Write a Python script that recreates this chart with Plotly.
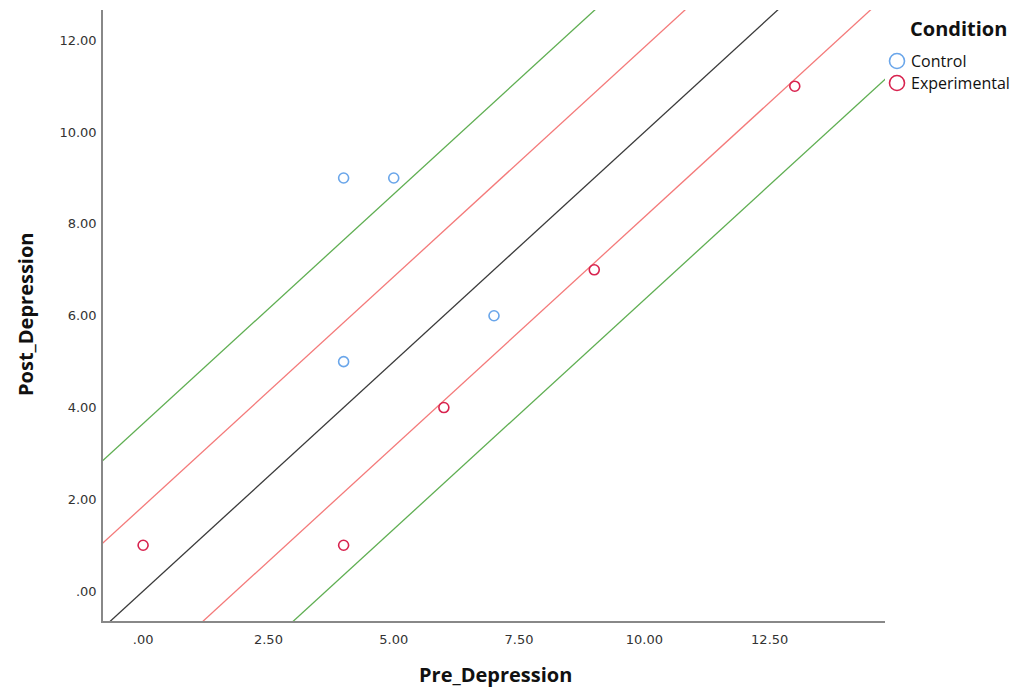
import plotly.graph_objects as go

control_pre = [4, 5, 4, 7]
control_post = [9, 9, 5, 6]
exp_pre = [0, 4, 6, 9, 13]
exp_post = [1, 1, 4, 7, 11]

ref_offsets = [0.0, 1.85, -1.85, 3.65, -3.65]
ref_colors = ["#3a3a3a", "#f47a7a", "#f47a7a", "#5fae52", "#5fae52"]

x_tickvals = [0, 2.5, 5, 7.5, 10, 12.5]
x_ticktext = [".00", "2.50", "5.00", "7.50", "10.00", "12.50"]
y_tickvals = [0, 2, 4, 6, 8, 10, 12]
y_ticktext = [".00", "2.00", "4.00", "6.00", "8.00", "10.00", "12.00"]

legend_names = ["Control", "Experimental"]
legend_colors = ["#6aa6ea", "#d8234f"]

x_range = [-0.8, 14.8]
y_range = [-0.65, 12.66]

fig = go.Figure()
for off, col in zip(ref_offsets, ref_colors):
    xs = [x_range[0] - 5, x_range[1] + 5]
    fig.add_trace(go.Scatter(x=xs, y=[v + off for v in xs], mode="lines",
                             line=dict(color=col, width=1.3), showlegend=False,
                             hoverinfo="skip"))

fig.add_trace(go.Scatter(x=control_pre, y=control_post, mode="markers", name="Control",
                         marker=dict(symbol="circle-open", size=10, color=legend_colors[0],
                                     line=dict(width=1.6)), showlegend=False))
fig.add_trace(go.Scatter(x=exp_pre, y=exp_post, mode="markers", name="Experimental",
                         marker=dict(symbol="circle-open", size=10, color=legend_colors[1],
                                     line=dict(width=1.6)), showlegend=False))

# custom legend and titles (paper coords; plot area 103..885 x 10..621)
W, H = 782.0, 611.0
def px(xp):
    return (xp - 103) / W
def py(yp):
    return (621 - yp) / H

fig.add_annotation(x=px(958), y=py(29), xref="paper", yref="paper", showarrow=False,
                   text="<b>Condition</b>", font=dict(size=20, family="Open Sans", color="#111"),
                   xanchor="center", yanchor="middle")
for i, (name, col) in enumerate(zip(legend_names, legend_colors)):
    yc = 61 + 22 * i
    fig.add_shape(type="circle", xref="paper", yref="paper", xsizemode="pixel", ysizemode="pixel",
                  xanchor=px(897), yanchor=py(yc), x0=-7.5, x1=7.5, y0=-7.5, y1=7.5,
                  line=dict(color=col, width=1.6))
    fig.add_annotation(x=px(909), y=py(yc), xref="paper", yref="paper", showarrow=False,
                       text=name, font=dict(size=16, family="Open Sans", color="#111"),
                       xanchor="left", yanchor="middle")

fig.add_annotation(x=px(495), y=py(674), xref="paper", yref="paper", showarrow=False,
                   text="<b>Pre_Depression</b>", font=dict(size=20, family="Open Sans", color="#111"),
                   xanchor="center", yanchor="middle")
fig.add_annotation(x=px(25), y=py(315), xref="paper", yref="paper", showarrow=False,
                   text="<b>Post_Depression</b>", font=dict(size=20, family="Open Sans", color="#111"),
                   xanchor="center", yanchor="middle", textangle=-90)

fig.update_layout(
    width=1027, height=690,
    margin=dict(l=103, r=142, t=10, b=69, autoexpand=False),
    plot_bgcolor="white", paper_bgcolor="white",
    font=dict(family="DejaVu Sans", color="#222"),
    showlegend=False,
    xaxis=dict(range=x_range, tickvals=x_tickvals, ticktext=x_ticktext, automargin=False,
               showgrid=False, zeroline=False, showline=True, linecolor="#888", linewidth=1.5,
               ticks="outside", ticklen=6, tickcolor="rgba(0,0,0,0)",
               tickfont=dict(size=13, family="DejaVu Sans", color="#333")),
    yaxis=dict(range=y_range, tickvals=y_tickvals, ticktext=y_ticktext, automargin=False,
               showgrid=False, zeroline=False, showline=True, linecolor="#888", linewidth=1.5,
               ticks="outside", ticklen=2, tickcolor="rgba(0,0,0,0)",
               tickfont=dict(size=13, family="DejaVu Sans", color="#333")),
)

fig.write_html("out.html")
